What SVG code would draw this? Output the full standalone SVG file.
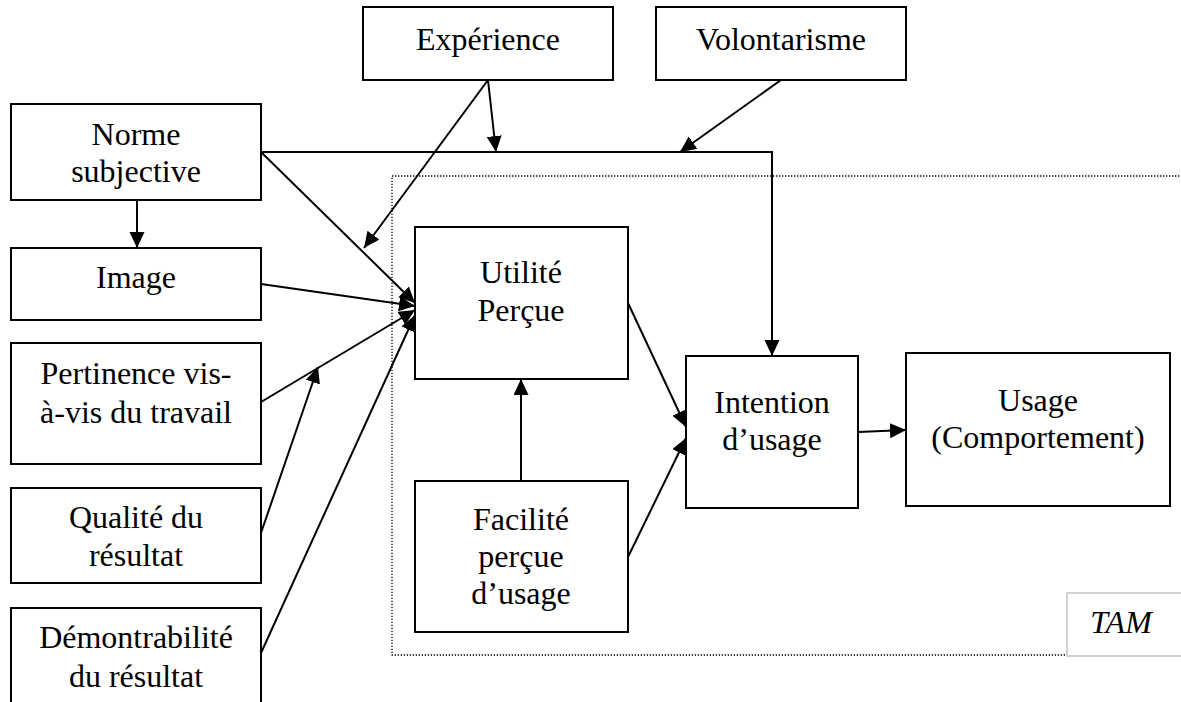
<svg xmlns="http://www.w3.org/2000/svg" width="1181" height="702" viewBox="0 0 1181 702">
<defs>
<style>
.box{fill:#fff;stroke:#000;stroke-width:2}
.t{font-family:"Liberation Serif","Times New Roman",serif;font-size:32px;fill:#000;text-anchor:middle}
.c{fill:none;stroke:#000;stroke-width:2}
</style>
<marker id="ah" markerUnits="userSpaceOnUse" markerWidth="17" markerHeight="16" refX="16" refY="7.5" orient="auto">
<path d="M0,0 L16,7.5 L0,15 z" fill="#000"/>
</marker>
</defs>
<rect width="1181" height="702" fill="#fff"/>
<g id="tam-frame">
<rect x="392" y="176" width="820" height="479" fill="none" stroke="#000" stroke-width="1.3" stroke-dasharray="1.3 1.7"/>
</g>
<g id="connectors">
<line class="c" x1="137" y1="200" x2="137" y2="248" marker-end="url(#ah)"/>
<polyline class="c" points="261,152 772,152 772,356" marker-end="url(#ah)"/>
<line class="c" x1="488" y1="80" x2="496" y2="152" marker-end="url(#ah)"/>
<line class="c" x1="781" y1="80" x2="680" y2="152" marker-end="url(#ah)"/>
<line class="c" x1="488" y1="80" x2="364" y2="248" marker-end="url(#ah)"/>
<line class="c" x1="261" y1="152" x2="415" y2="303" marker-end="url(#ah)"/>
<line class="c" x1="261" y1="284" x2="415" y2="306" marker-end="url(#ah)"/>
<line class="c" x1="261" y1="402" x2="415" y2="310" marker-end="url(#ah)"/>
<line class="c" x1="261" y1="533" x2="318" y2="367" marker-end="url(#ah)"/>
<line class="c" x1="261" y1="653" x2="415" y2="315" marker-end="url(#ah)"/>
<line class="c" x1="521" y1="481" x2="521" y2="379" marker-end="url(#ah)"/>
<line class="c" x1="628" y1="303" x2="686" y2="427" marker-end="url(#ah)"/>
<line class="c" x1="628" y1="557" x2="686" y2="438" marker-end="url(#ah)"/>
<line class="c" x1="858" y1="432" x2="906" y2="430" marker-end="url(#ah)"/>
</g>
<g id="experience">
<rect class="box" x="363" y="7" width="250" height="73"/>
<text class="t" x="488" y="50">Expérience</text>
</g>
<g id="volontarisme">
<rect class="box" x="656" y="7" width="250" height="73"/>
<text class="t" x="781" y="50">Volontarisme</text>
</g>
<g id="norme">
<rect class="box" x="11" y="104" width="250" height="96"/>
<text class="t" x="136" y="145">Norme</text>
<text class="t" x="136" y="182">subjective</text>
</g>
<g id="image">
<rect class="box" x="11" y="248" width="250" height="72"/>
<text class="t" x="136" y="288">Image</text>
</g>
<g id="pertinence">
<rect class="box" x="11" y="343" width="250" height="121"/>
<text class="t" x="136" y="384">Pertinence vis-</text>
<text class="t" x="136" y="423">à-vis du travail</text>
</g>
<g id="qualite">
<rect class="box" x="11" y="488" width="250" height="95"/>
<text class="t" x="136" y="528">Qualité du</text>
<text class="t" x="136" y="566">résultat</text>
</g>
<g id="demontrabilite">
<rect class="box" x="11" y="608" width="250" height="120"/>
<text class="t" x="136" y="648">Démontrabilité</text>
<text class="t" x="136" y="687">du résultat</text>
</g>
<g id="utilite">
<rect class="box" x="415" y="227" width="213" height="152"/>
<text class="t" x="521" y="283">Utilité</text>
<text class="t" x="521" y="321">Perçue</text>
</g>
<g id="facilite">
<rect class="box" x="415" y="481" width="213" height="151"/>
<text class="t" x="521" y="530">Facilité</text>
<text class="t" x="521" y="567">perçue</text>
<text class="t" x="521" y="604">d’usage</text>
</g>
<g id="intention">
<rect class="box" x="686" y="356" width="172" height="152"/>
<text class="t" x="772" y="413">Intention</text>
<text class="t" x="772" y="450">d’usage</text>
</g>
<g id="usage">
<rect class="box" x="906" y="353" width="264" height="153"/>
<text class="t" x="1038" y="411">Usage</text>
<text class="t" x="1038" y="448">(Comportement)</text>
</g>
<g id="tam-label">
<rect x="1067" y="593" width="140" height="63" fill="#fff" stroke="#d0d0d0" stroke-width="2"/>
<text class="t" x="1121" y="633" font-style="italic">TAM</text>
</g>
</svg>
